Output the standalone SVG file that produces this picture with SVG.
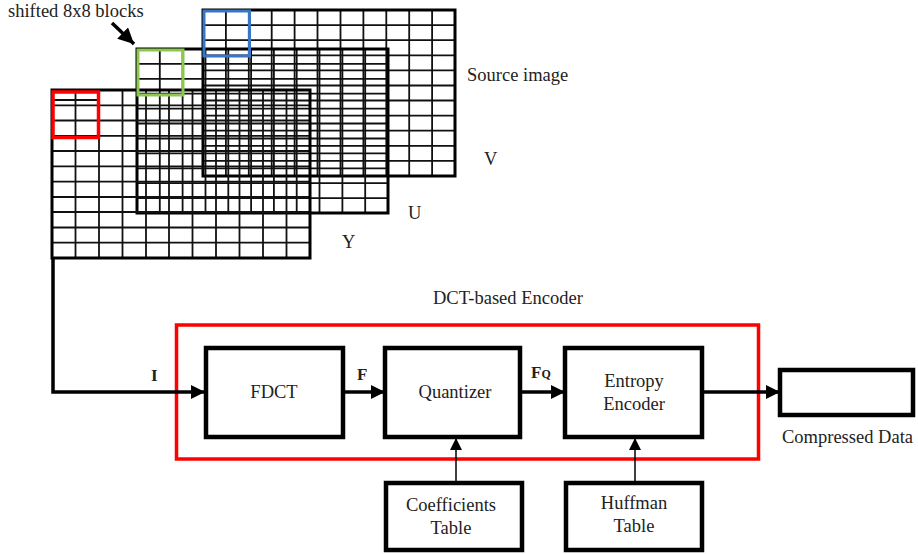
<svg xmlns="http://www.w3.org/2000/svg" width="918" height="554" viewBox="0 0 918 554">
<style>
.lbl{font-size:18.5px;}
.box{font-size:18.5px;text-anchor:middle;}
.b{font-weight:bold;font-size:17px;}
.grid-in{fill:none;stroke:#111;stroke-width:1.8;}
.grid-out{fill:none;stroke:#000;stroke-width:3;}
.node{fill:#fff;stroke:#000;stroke-width:4.5;}
.wire{fill:none;stroke:#000;stroke-width:3.5;}
.thin{fill:none;stroke:#000;stroke-width:1.5;}
</style>
<defs>
<marker id="ah" markerWidth="4" markerHeight="4" refX="4" refY="2" orient="auto" markerUnits="strokeWidth"><path d="M0,0 L4,2 L0,4 z" fill="#000"/></marker>
<marker id="ahb" markerWidth="4.5" markerHeight="4.5" refX="4.5" refY="2.25" orient="auto" markerUnits="strokeWidth"><path d="M0,0 L4.5,2.25 L0,4.5 z" fill="#000"/></marker>
<marker id="ahs" markerWidth="8" markerHeight="8" refX="8" refY="4" orient="auto" markerUnits="strokeWidth"><path d="M0,0 L8,4 L0,8 z" fill="#000"/></marker>
</defs>

<g id="gridV">
<path class="grid-in" d="M225.9,10V176M248.8,10V176M271.7,10V176M294.6,10V176M317.5,10V176M340.5,10V176M363.4,10V176M386.3,10V176M409.2,10V176M432.1,10V176M203,25.1H455M203,40.2H455M203,55.3H455M203,70.4H455M203,85.5H455M203,100.5H455M203,115.6H455M203,130.7H455M203,145.8H455M203,160.9H455"/>
<rect class="grid-out" x="203" y="10" width="252" height="166"/>
</g>
<g id="gridU">
<path class="grid-in" d="M159.8,49V213M182.6,49V213M205.5,49V213M228.3,49V213M251.1,49V213M273.9,49V213M296.7,49V213M319.5,49V213M342.4,49V213M365.2,49V213M137,63.9H388M137,78.8H388M137,93.7H388M137,108.6H388M137,123.5H388M137,138.5H388M137,153.4H388M137,168.3H388M137,183.2H388M137,198.1H388"/>
<rect class="grid-out" x="137" y="49" width="251" height="164"/>
</g>
<g id="gridY">
<path class="grid-in" d="M75.5,90V258M99,90V258M122.5,90V258M146,90V258M169,90V258M192.5,90V258M216,90V258M239.5,90V258M263,90V258M286.5,90V258M52,105.3H310M52,120.5H310M52,135.8H310M52,151H310M52,166.4H310M52,181.6H310M52,197H310M52,212H310M52,227.5H310M52,242.7H310M53,100H100"/>
<rect class="grid-out" x="52" y="90" width="258" height="168"/>
</g>
<g id="blocks">
<rect x="204" y="11" width="45.5" height="45" fill="none" stroke="#3b76c4" stroke-width="3"/>
<rect x="138" y="50" width="45" height="45" fill="none" stroke="#8cc850" stroke-width="3"/>
<rect x="53" y="92" width="45.5" height="45.5" fill="none" stroke="#f00" stroke-width="3.5"/>
</g>

<g id="labels-top" font-family="'Liberation Serif', 'DejaVu Serif', serif" fill="#222">
<text class="lbl" x="8" y="17">shifted 8x8 blocks</text>
<text class="lbl" x="467" y="81">Source image</text>
<text class="lbl" x="484" y="165">V</text>
<text class="lbl" x="408" y="219">U</text>
<text class="lbl" x="342" y="248">Y</text>
<text class="lbl" x="433" y="304">DCT-based Encoder</text>
<text class="lbl" x="782" y="443">Compressed Data</text>
</g>

<g id="encoder">
<rect x="176.5" y="325" width="582" height="134" fill="none" stroke="#f00" stroke-width="3.5"/>
</g>

<g id="connectors" font-family="'Liberation Serif', 'DejaVu Serif', serif" fill="#222">
<path d="M112,23 L134,44" class="wire" stroke-width="3.5" marker-end="url(#ahb)"/>
<path d="M53,258 V392 H205" class="wire" marker-end="url(#ah)"/>
<path d="M343,392 H385" class="wire" marker-end="url(#ah)"/>
<path d="M520,392 H565" class="wire" marker-end="url(#ah)"/>
<path d="M702,392 H780" class="wire" marker-end="url(#ah)"/>
<path d="M456,482 V438" class="thin" marker-end="url(#ahs)"/>
<path d="M635,482 V438" class="thin" marker-end="url(#ahs)"/>
<text class="b" x="151" y="381">I</text>
<text class="b" x="357" y="380">F</text>
<text class="b" x="531" y="378">F<tspan font-size="12">Q</tspan></text>
</g>

<g font-family="'Liberation Serif', 'DejaVu Serif', serif" fill="#222">
<g id="fdct"><rect class="node" x="206" y="348" width="137" height="89"/><text class="box" x="274" y="398">FDCT</text></g>
<g id="quantizer"><rect class="node" x="385" y="348" width="135" height="89"/><text class="box" x="455" y="398">Quantizer</text></g>
<g id="entropy"><rect class="node" x="565" y="348" width="137" height="89"/><text class="box" x="634" y="387">Entropy</text><text class="box" x="634" y="410">Encoder</text></g>
<g id="compressed"><rect class="node" x="780" y="370" width="133" height="45"/></g>
<g id="coeff"><rect class="node" x="386" y="483" width="136" height="67"/><text class="box" x="451" y="511">Coefficients</text><text class="box" x="451" y="534">Table</text></g>
<g id="huffman"><rect class="node" x="566" y="483" width="136" height="67"/><text class="box" x="634" y="509">Huffman</text><text class="box" x="634" y="532">Table</text></g>
</g>
</svg>
